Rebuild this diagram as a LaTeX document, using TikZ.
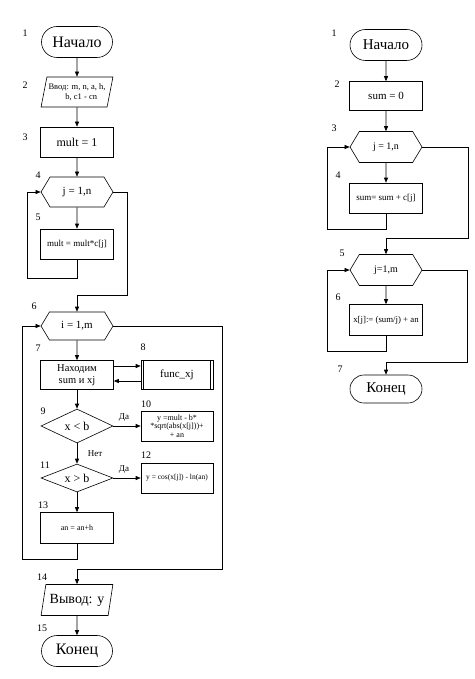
\documentclass[tikz,border=0pt]{standalone}
\usepackage{fontspec}
\setmainfont{Liberation Serif}
\usetikzlibrary{arrows.meta, shapes.geometric, shapes.misc, shapes.symbols}
\newcommand{\fs}[2]{\fontsize{#1}{#2}\selectfont}

\begin{document}
\begin{tikzpicture}[
    x=1pt, y=-1pt, line width=0.6pt,
    term/.style={rounded rectangle, draw, minimum width=73pt, minimum height=31pt, inner sep=1pt},
    proc/.style={rectangle, draw, minimum width=73pt, minimum height=30pt, inner sep=1pt, align=center},
    io/.style={trapezium, trapezium left angle=73, trapezium right angle=107,
               trapezium stretches=true, draw, minimum width=72pt, minimum height=30pt,
               inner sep=1pt, align=center},
    loopb/.style={signal, signal to=west and east, signal pointer angle=118, draw,
                  minimum width=72pt, minimum height=30pt, inner sep=1pt},
    cond/.style={diamond, draw, minimum width=72pt, minimum height=34pt, inner sep=0pt, aspect=2},
    num/.style={font=\fs{10}{12}},
    lbl/.style={font=\fs{9}{10}},
    arr/.style={-{Triangle[length=5pt, width=4pt]}},
]
  \useasboundingbox (0,0) rectangle (474,679);

  % ---- Left chart: blocks ----
  \node[term, font=\fs{16}{18}] (t1)  at (77,42)  {Начало};
  \node[io, font=\fs{8.5}{9.5}] (p2)  at (77,92)  {Ввод: m, n, a, h,\\ \quad b, c1 - cn};
  \node[proc, font=\fs{12}{14}] (r3)  at (77,142) {mult = 1};
  \node[loopb, font=\fs{11}{12}](h4)  at (77,192) {j = 1,n};
  \node[proc, font=\fs{9}{10}]  (r5)  at (77,244) {mult = mult*c[j]};
  \node[loopb, font=\fs{11}{12}, minimum height=28pt] (h6) at (77,326) {i = 1,m};
  \node[proc, font=\fs{10.5}{12}, minimum height=29pt] (r7) at (77,375) {Находим\\sum и xj};
  \node[proc, font=\fs{11}{12}, minimum width=72pt, minimum height=29pt] (f8) at (177,375) {func\_xj};
  \draw (f8.north west) ++(3,0) coordinate (f8a) -- (f8a |- f8.south);
  \draw (f8.north east) ++(-3,0) coordinate (f8b) -- (f8b |- f8.south);
  \node[cond, font=\fs{12}{14}] (d9)  at (77,426) {x < b};
  \node[proc, font=\fs{8}{8.5}, minimum width=72pt] (r10) at (177,426)
    {y =mult - b*\\*sqrt(abs(x[j]))+\\+ an};
  \node[cond, font=\fs{12}{14}, minimum height=28pt] (d11) at (77,478) {x > b};
  \node[proc, font=\fs{7.5}{8}, minimum width=72pt] (r12) at (177,478) {y = cos(x[j]) - ln(an)};
  \node[proc, font=\fs{8}{9}, minimum height=31pt] (r13) at (77,528) {an = an+h};
  \node[io, font=\fs{14}{16}, minimum height=31pt] (p14) at (77,600) {Вывод: y};
  \node[term, font=\fs{16}{18}] (t15) at (77,651) {Конец};

  % ---- Left chart: numbers ----
  \node[num] (n1)  at (25,33)  {1};
  \node[num] (n2)  at (25,85)  {2};
  \node[num] (n3)  at (25,137) {3};
  \node[num] (n4)  at (38,175) {4};
  \node[num] (n5)  at (38,217) {5};
  \node[num] (n6)  at (34,306) {6};
  \node[num] (n7)  at (38,348) {7};
  \node[num] (n8)  at (143,347) {8};
  \node[num] (n9)  at (43,411) {9};
  \node[num] (n10) at (146,404) {10};
  \node[num] (n11) at (45,465) {11};
  \node[num] (n12) at (146,455) {12};
  \node[num] (n13) at (43,505) {13};
  \node[num] (n14) at (42,577) {14};
  \node[num] (n15) at (42,628) {15};

  % ---- Left chart: connectors ----
  \draw[arr] (t1) -- (p2);
  \draw[arr] (p2) -- (r3);
  \draw[arr] (r3) -- (h4);
  \draw[arr] (h4) -- (r5);
  \coordinate (lp4) at (27,278);
  \draw[arr] (r5.south) |- (lp4) |- (h4.west);
  \coordinate (ex4) at (127,295);
  \draw[arr] (h4.east) -| (ex4) -| (h6.north);

  \draw[arr] (h6) -- (r7);
  \draw[arr] ([yshift=9pt]r7.east) -- ([yshift=9pt]f8.west);
  \draw[arr] ([yshift=-6pt]f8.west) -- ([yshift=-6pt]r7.east);
  \draw[arr] (r7) -- (d9);
  \draw[arr] (d9.east) -- (r10.west);
  \node[lbl] (da9) at (124,418) {Да};
  \draw[arr] (d9.south) -- (d11.north);
  \node[lbl] (net9) at (95,454) {Нет};
  \draw[arr] (d11.east) -- (r12.west);
  \node[lbl] (da11) at (124,470) {Да};
  \draw[arr] (d11) -- (r13);
  \coordinate (lp6) at (22,559);
  \draw[arr] (r13.south) |- (lp6) |- (h6.west);
  \coordinate (ex6) at (222,569);
  \draw[arr] (h6.east) -| (ex6) -| (p14.north);
  \draw[arr] (p14) -- (t15);

  % ---- Right chart: blocks ----
  \node[term, font=\fs{15}{17}, minimum width=74pt] (T1) at (386,45) {Начало};
  \node[proc, font=\fs{11}{12}, minimum height=29pt] (R2) at (386,96) {sum = 0};
  \node[loopb, font=\fs{10}{12}, minimum height=31pt] (H3) at (386,147) {j = 1,n};
  \node[proc, font=\fs{9}{10}] (R4) at (386,198) {sum= sum + c[j]};
  \node[loopb, font=\fs{10}{12}, minimum height=31pt] (H5) at (386,270) {j=1,m};
  \node[proc, font=\fs{8.8}{10}, minimum height=31pt] (R6) at (386,320) {x[j]:= (sum/j) + an};
  \node[term, font=\fs{15}{17}, minimum width=74pt, minimum height=28pt] (T7) at (386,389) {Конец};

  % ---- Right chart: numbers ----
  \node[num] (m1) at (334,33)  {1};
  \node[num] (m2) at (337,84)  {2};
  \node[num] (m3) at (334,128) {3};
  \node[num] (m4) at (338,175) {4};
  \node[num] (m5) at (342,253) {5};
  \node[num] (m6) at (338,297) {6};
  \node[num] (m7) at (340,369) {7};

  % ---- Right chart: connectors ----
  \draw[arr] (T1) -- (R2);
  \draw[arr] (R2) -- (H3);
  \draw[arr] (H3) -- (R4);
  \coordinate (lp3) at (327,229);
  \draw[arr] (R4.south) |- (lp3) |- (H3.west);
  \coordinate (ex3) at (468,238);
  \draw[arr] (H3.east) -| (ex3) -| (H5.north);
  \draw[arr] (H5) -- (R6);
  \coordinate (lp5) at (327,351);
  \draw[arr] (R6.south) |- (lp5) |- (H5.west);
  \coordinate (ex5) at (467,362);
  \draw[arr] (H5.east) -| (ex5) -| (T7.north);

\end{tikzpicture}
\end{document}
